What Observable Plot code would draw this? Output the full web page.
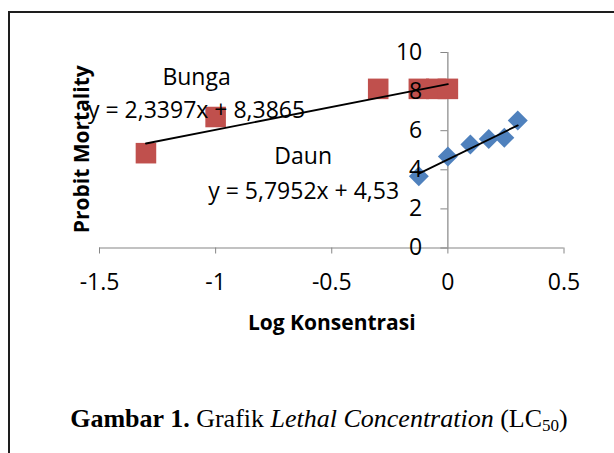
<!DOCTYPE html>
<html><head><meta charset="utf-8">
<script src="https://cdn.jsdelivr.net/npm/d3@7"></script>
<script src="https://cdn.jsdelivr.net/npm/@observablehq/plot@0.6"></script>
<style>
body{margin:0;background:#fff;}
#wrap{position:relative;width:614px;height:453px;overflow:hidden;background:#fff;}
#frame{position:absolute;left:8px;top:11px;width:800px;height:800px;border-top:2px solid #1e1e1e;border-left:2px solid #1e1e1e;}
#chart{position:absolute;left:0;top:0;}
#caption{position:absolute;left:0;width:638px;text-align:center;top:404px;font-family:"Liberation Serif",serif;font-size:26px;line-height:30px;color:#000;white-space:nowrap;}
#caption sub{font-size:17px;vertical-align:-4px;line-height:0;}
</style></head><body>
<div id="wrap"><div id="frame"></div><div id="chart"></div><div id="caption"><b>Gambar 1.</b> Grafik <i>Lethal Concentration</i> (LC<sub>50</sub>)</div></div>
<script>
// ---- data ----
const xTicks = [-1.5, -1, -0.5, 0, 0.5];
const yTicks = [0, 2, 4, 6, 8, 10];
const bungaX = [-1.30, -1.00, -0.30, -0.125, -0.05, 0];
const bungaY = [4.85, 6.70, 8.14, 8.14, 8.14, 8.14];
const daunX = [-0.125, 0, 0.097, 0.176, 0.243, 0.301];
const daunY = [3.67, 4.68, 5.29, 5.58, 5.64, 6.52];
const bungaFit = [2.3397, 8.3865];
const daunFit = [5.7952, 4.53];
const seriesNames = ["Bunga", "Daun"];
const eqLabels = ["y = 2,3397x + 8,3865", "y = 5,7952x + 4,53"];
const xTitle = "Log Konsentrasi";
const yTitle = "Probit Mortality";

// ---- styles / annotation placement ----
const red = "#C0504D", blue = "#4F81BD", axisColor = "#868686";
const annotations = [
  {text: seriesNames[0], x: -1.082, y: 8.74},
  {text: eqLabels[0], x: -1.082, y: 7.04},
  {text: seriesNames[1], x: -0.623, y: 4.68},
  {text: eqLabels[1], x: -0.621, y: 2.90}
];

const bunga = bungaX.map((x, i) => ({x, y: bungaY[i]}));
const daun = daunX.map((x, i) => ({x, y: daunY[i]}));
const fitLine = (xs, [a, b]) => [d3.min(xs), d3.max(xs)].map(x => ({x, y: a * x + b}));

const plot = Plot.plot({
  width: 614, height: 345,
  marginLeft: 99, marginRight: 50.5, marginTop: 52, marginBottom: 97.5,
  x: {domain: [xTicks[0], xTicks[xTicks.length - 1]]},
  y: {domain: [yTicks[0], yTicks[yTicks.length - 1]]},
  style: {fontFamily: "'Open Sans', sans-serif", fontSize: "23px", color: "#000", background: "transparent", overflow: "visible"},
  marks: [
    Plot.ruleY([0], {x1: xTicks[0], x2: xTicks[xTicks.length - 1], stroke: axisColor, strokeWidth: 1.2}),
    Plot.ruleX([0], {y1: yTicks[0], y2: yTicks[yTicks.length - 1], stroke: axisColor, strokeWidth: 1.2}),
    Plot.axisX({ticks: xTicks, tickSize: 6, tickPadding: 20, tickFormat: d => String(d), stroke: axisColor, fill: "#000", label: null}),
    Plot.axisY({x: 0, ticks: yTicks, tickSize: 7, tickFormat: () => "", stroke: axisColor, label: null}),
    Plot.dot(bunga, {x: "x", y: "y", symbol: "square", r: 11.6, fill: red}),
    Plot.dot(daun, {x: "x", y: "y", symbol: "diamond2", r: 9, fill: blue}),
    Plot.line(fitLine(bungaX, bungaFit), {x: "x", y: "y", stroke: "#000", strokeWidth: 1.8}),
    Plot.line(fitLine(daunX, daunFit), {x: "x", y: "y", stroke: "#000", strokeWidth: 1.8}),
    Plot.axisY({x: 0, ticks: yTicks, tickSize: 0, tickPadding: 25.6, fill: "#000", label: null}),
    Plot.text(annotations, {x: "x", y: "y", text: "text", fill: "#000"}),
    Plot.text([yTitle], {x: -1.576, y: 5.05, textAnchor: "middle", lineAnchor: "middle", rotate: -90, fontWeight: "bold", fontSize: 21, fill: "#000"}),
    Plot.text([xTitle], {frameAnchor: "bottom", textAnchor: "middle", lineAnchor: "middle", dy: 75, fontWeight: "bold", fontSize: 21, fill: "#000"})
  ]
});
document.getElementById("chart").appendChild(plot);
</script>
</body></html>
